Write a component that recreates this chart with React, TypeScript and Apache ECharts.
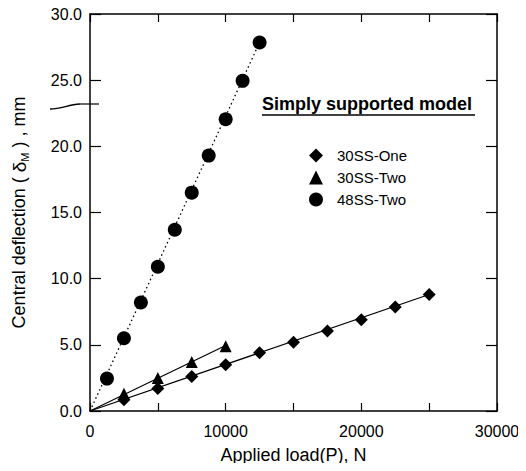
import React, { useEffect, useRef } from "react";
import * as echarts from "echarts";

const oneLoad = [2500, 5000, 7500, 10000, 12500, 15000, 17500, 20000, 22500, 25000];
const oneDefl = [0.85, 1.7, 2.6, 3.5, 4.4, 5.2, 6.05, 6.9, 7.85, 8.8];
const twoLoad = [2500, 5000, 7500, 10000];
const twoDefl = [1.3, 2.5, 3.7, 4.9];
const bigLoad = [1250, 2500, 3750, 5000, 6250, 7500, 8750, 10000, 11250, 12500];
const bigDefl = [2.45, 5.5, 8.2, 10.9, 13.7, 16.5, 19.3, 22.05, 24.95, 27.85];
const fitOne = [[0, 0], [25000, 8.8]];
const fitTwo = [[0, 0], [10000, 4.95]];
const fitBig = [[0, 0], [12500, 27.85]];
const yTicks = [0, 30, 5];
const xTicks = [0, 30000, 5000];

const FONT = "'Liberation Sans', Arial, sans-serif";

function pairs(xs: number[], ys: number[]) {
  return xs.map((x, i) => [x, ys[i]]);
}

export default function App() {
  const ref = useRef<HTMLDivElement>(null);
  useEffect(() => {
    if (!ref.current) return;
    const chart = echarts.init(ref.current, undefined, { renderer: "svg" });
    const axisLine = { show: true, onZero: false, lineStyle: { color: "#000", width: 1.5 } };
    chart.setOption({
      animation: false,
      backgroundColor: "#fff",
      textStyle: { fontFamily: FONT, color: "#000" },
      grid: { left: 90, right: 29, top: 14, bottom: 60 },
      legend: {
        orient: "vertical",
        left: 309,
        top: 148,
        padding: 0,
        itemWidth: 14,
        itemHeight: 14,
        itemGap: 7,
        data: ["30SS-One", "30SS-Two", "48SS-Two"],
        textStyle: { fontFamily: FONT, fontSize: 15, color: "#000", padding: [0, 0, 0, 9] },
      },
      xAxis: [
        {
          type: "value",
          min: xTicks[0],
          max: xTicks[1],
          interval: xTicks[2],
          name: "Applied load(P), N",
          nameLocation: "middle",
          nameGap: 35,
          nameTextStyle: { fontFamily: FONT, fontSize: 18, color: "#000" },
          axisLine,
          axisTick: { show: true, inside: true, length: 8, lineStyle: { color: "#000", width: 1.2 } },
          axisLabel: {
            fontFamily: FONT,
            fontSize: 16,
            color: "#000",
            margin: 12,
            formatter: (v: number) => (v % 10000 === 0 ? String(v) : ""),
          },
          splitLine: { show: false },
        },
        {
          type: "value",
          position: "top",
          min: xTicks[0],
          max: xTicks[1],
          interval: xTicks[2],
          axisLine,
          axisTick: { show: true, inside: true, length: 8, lineStyle: { color: "#000", width: 1.2 } },
          axisLabel: { show: false },
          splitLine: { show: false },
        },
      ],
      yAxis: [
        {
          type: "value",
          min: yTicks[0],
          max: yTicks[1],
          interval: yTicks[2],
          name: "Central deflection ( {d|δ}{s|M} ) , mm",
          nameLocation: "middle",
          nameGap: 60,
          nameTextStyle: {
            fontFamily: FONT,
            fontSize: 18,
            color: "#000",
            rich: {
              d: { fontFamily: FONT, fontSize: 19, color: "#000", lineHeight: 22 },
              s: { fontFamily: FONT, fontSize: 11, color: "#000", lineHeight: 22, verticalAlign: "bottom", padding: [8, 0, 0, 0] },
            },
          },
          axisLine,
          axisTick: { show: true, inside: true, length: 11, lineStyle: { color: "#000", width: 1.2 } },
          axisLabel: {
            fontFamily: FONT,
            fontSize: 16,
            color: "#000",
            margin: 8,
            formatter: (v: number) => v.toFixed(1),
          },
          splitLine: { show: false },
        },
        {
          type: "value",
          position: "right",
          min: yTicks[0],
          max: yTicks[1],
          interval: yTicks[2],
          axisLine,
          axisTick: { show: true, inside: true, length: 11, lineStyle: { color: "#000", width: 1.2 } },
          axisLabel: { show: false },
          splitLine: { show: false },
        },
      ],
      series: [
        {
          name: "fitOne",
          type: "line",
          data: fitOne,
          symbol: "none",
          lineStyle: { color: "#000", width: 1.2 },
          silent: true,
        },
        {
          name: "fitTwo",
          type: "line",
          data: fitTwo,
          symbol: "none",
          lineStyle: { color: "#000", width: 1.2 },
          silent: true,
        },
        {
          name: "fitBig",
          type: "line",
          data: fitBig,
          symbol: "none",
          lineStyle: { color: "#000", width: 1.3, type: [1.5, 3] },
          silent: true,
        },
        {
          name: "30SS-One",
          type: "scatter",
          data: pairs(oneLoad, oneDefl),
          symbol: "diamond",
          symbolSize: 13,
          itemStyle: { color: "#000", opacity: 1 },
          z: 5,
        },
        {
          name: "30SS-Two",
          type: "scatter",
          data: pairs(twoLoad, twoDefl),
          symbol: "triangle",
          symbolSize: 12,
          itemStyle: { color: "#000", opacity: 1 },
          z: 5,
        },
        {
          name: "48SS-Two",
          type: "scatter",
          data: pairs(bigLoad, bigDefl),
          symbol: "circle",
          symbolSize: 14,
          itemStyle: { color: "#000", opacity: 1 },
          z: 5,
        },
      ],
      graphic: [
        {
          type: "bezierCurve",
          shape: { x1: 50, y1: 109, x2: 80, y2: 104, cpx1: 62, cpy1: 109, cpx2: 68, cpy2: 104.5 },
          style: { stroke: "#000", lineWidth: 1.3, fill: "none" },
          z: 10,
        },
        {
          type: "line",
          shape: { x1: 80, y1: 104, x2: 99, y2: 104 },
          style: { stroke: "#000", lineWidth: 1.2 },
          z: 10,
        },
        {
          type: "text",
          left: 262,
          top: 95,
          style: {
            text: "Simply supported model",
            fontFamily: FONT,
            fontSize: 18,
            fontWeight: "bold",
            fill: "#000",
          },
          z: 10,
        },
        {
          type: "line",
          shape: { x1: 262, y1: 115, x2: 475, y2: 115 },
          style: { stroke: "#000", lineWidth: 1.3 },
          z: 10,
        },
      ],
    });
    return () => chart.dispose();
  }, []);
  return <div ref={ref} style={{ width: 526, height: 471, margin: -8 }} />;
}
